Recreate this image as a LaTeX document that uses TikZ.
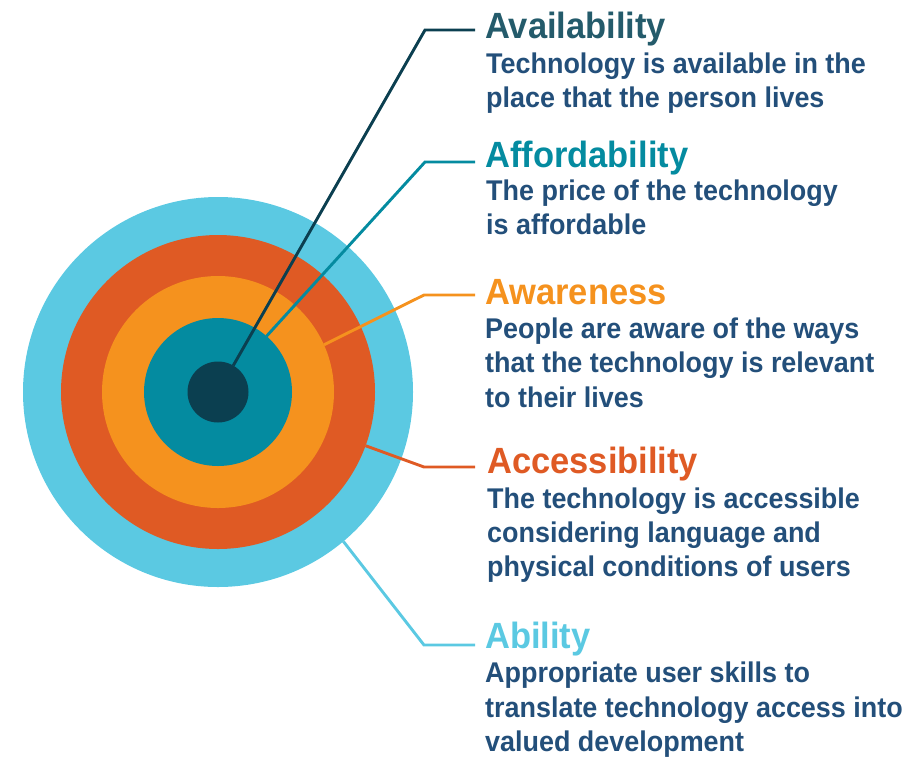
\documentclass[tikz,border=0pt]{standalone}
\usepackage{fontspec}
\newfontfamily\lab{Liberation Sans}[FakeStretch=0.945]
\definecolor{cDark}{HTML}{0B3F50}
\definecolor{cDarkT}{HTML}{245B6B}
\definecolor{cTeal}{HTML}{048BA0}
\definecolor{cOrange}{HTML}{F5921E}
\definecolor{cRed}{HTML}{DF5A24}
\definecolor{cLight}{HTML}{5BC9E2}
\definecolor{cBody}{HTML}{234F7A}
\tikzset{
  ring/.style={circle, inner sep=0pt, outer sep=0pt, minimum size=#1},
  conn/.style={line width=2.9pt, line join=miter},
  ttl/.style={anchor=base west, inner sep=0pt, font=\lab\bfseries\fontsize{36.5}{40}\selectfont},
  bdy/.style={anchor=base west, inner sep=0pt, text=cBody, font=\lab\bfseries\fontsize{28.5}{34}\selectfont}
}
\begin{document}
\begin{tikzpicture}[x=1pt,y=-1pt]
\useasboundingbox (0,0) rectangle (920,756);
% rings
\node[ring=390pt, fill=cLight] (r5) at (218,392) {};
\node[ring=314pt, fill=cRed] (r4) at (218,392) {};
\node[ring=232pt, fill=cOrange] (r3) at (218,392) {};
\node[ring=148pt, fill=cTeal] (r2) at (218,392) {};
\node[ring=61pt, fill=cDark] (r1) at (218,392) {};
% bends and ends
\coordinate (kA) at (425,30);  \coordinate (eA) at (475,30);
\coordinate (kB) at (425,162); \coordinate (eB) at (475,162);
\coordinate (kC) at (424,295); \coordinate (eC) at (475,295);
\coordinate (kD) at (424,467); \coordinate (eD) at (475,467);
\coordinate (kE) at (424,645); \coordinate (eE) at (475,645);
% connectors
\draw[conn, cDark] (r1.60.5) -- (kA) -- (eA);
\draw[conn, cTeal] (r2.49.2) -- (kB) -- (eB);
\draw[conn, cOrange] (r3.24.6) -- (kC) -- (eC);
\draw[conn, cRed] (r4.-20.3) -- (kD) -- (eD);
\draw[conn, cLight] (r5.-50.6) -- (kE) -- (eE);
% Availability
\node[ttl, text=cDarkT] (tA) at (485,38) {Availability};
\node[bdy] (a1) at (486,73) {Technology is available in the};
\node[bdy] (a2) at (486,107) {place that the person lives};
% Affordability
\node[ttl, text=cTeal] (tB) at (485,167) {Affordability};
\node[bdy] (b1) at (486,200) {The price of the technology};
\node[bdy] (b2) at (486,234) {is affordable};
% Awareness
\node[ttl, text=cOrange] (tC) at (485,304) {Awareness};
\node[bdy] (c1) at (485,338) {People are aware of the ways};
\node[bdy] (c2) at (485,372) {that the technology is relevant};
\node[bdy] (c3) at (485,407) {to their lives};
% Accessibility
\node[ttl, text=cRed] (tD) at (487,473) {Accessibility};
\node[bdy] (d1) at (487,508) {The technology is accessible};
\node[bdy] (d2) at (487,542) {considering language and};
\node[bdy] (d3) at (487,576) {physical conditions of users};
% Ability
\node[ttl, text=cLight] (tE) at (485,648) {Ability};
\node[bdy] (e1) at (485,682) {Appropriate user skills to};
\node[bdy] (e2) at (485,717) {translate technology access into};
\node[bdy] (e3) at (485,751) {valued development};
\end{tikzpicture}
\end{document}
